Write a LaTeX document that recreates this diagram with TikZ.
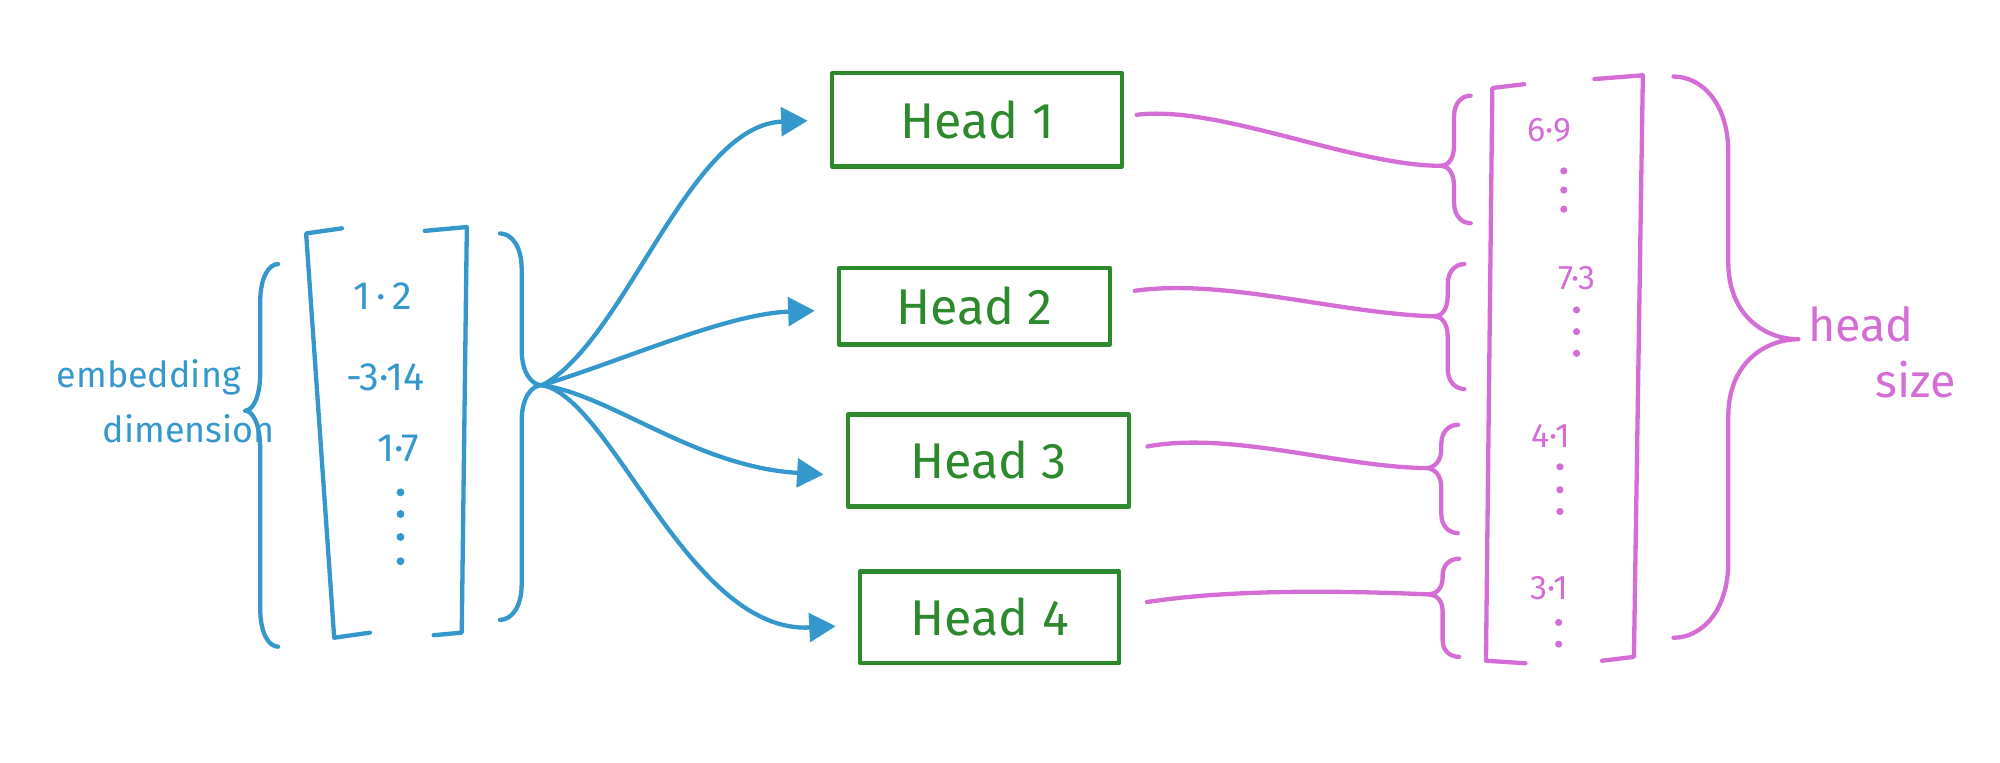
\documentclass[tikz,border=0pt]{standalone}
\usepackage{fontspec}
\setmainfont{Fira Sans}
\usetikzlibrary{arrows.meta,calc}
\definecolor{penblue}{RGB}{52,152,205}
\definecolor{pengreen}{RGB}{44,138,44}
\definecolor{penpink}{RGB}{212,110,214}
\newcommand{\pxu}{0.0125cm}
% curly brace drawn as one stroke:
% #1 style, #2 arm x, #3 top y, #4 tip x, #5 tip y, #6 bottom y, #7 end x, #8 curl size
\newcommand{\handbrace}[8]{%
  \draw[#1] (#7,#3) .. controls ({(#2+#7)/2},#3) and (#2,{#3+#8/3}) .. (#2,{#3+#8})
    -- (#2,{#5-#8}) .. controls (#2,{#5-#8/3}) and ({(#2+#4)/2},#5) .. (#4,#5)
    .. controls ({(#2+#4)/2},#5) and (#2,{#5+#8/3}) .. (#2,{#5+#8})
    -- (#2,{#6-#8}) .. controls (#2,{#6-#8/3}) and ({(#2+#7)/2},#6) .. (#7,#6);}
\begin{document}
\begin{tikzpicture}[x=\pxu, y=-\pxu, line cap=round, line join=round,
  pen/.style={line width=1.2pt},
  bluepen/.style={pen, draw=penblue},
  greenpen/.style={pen, draw=pengreen},
  pinkpen/.style={pen, draw=penpink},
  bluearrow/.style={bluepen, -{Triangle[length=2.6mm,width=2.8mm]}, shorten >=0.22cm},
  pinkline/.style={pinkpen},
  headbox/.style={greenpen, rectangle, inner sep=0pt, text=pengreen,
    font=\fontsize{14}{16}\selectfont},
  bluetext/.style={text=penblue, inner sep=0pt, font=\fontsize{10}{12}\selectfont},
  bluenum/.style={text=penblue, inner sep=0pt, font=\fontsize{11}{13}\selectfont},
  pinknum/.style={text=penpink, inner sep=0pt, font=\fontsize{9.5}{11}\selectfont},
  pinktext/.style={text=penpink, inner sep=0pt, font=\fontsize{13}{15}\selectfont},
  bluedot/.style={fill=penblue, draw=none, circle, minimum size=2.2pt, inner sep=0pt},
  pinkdot/.style={fill=penpink, draw=none, circle, minimum size=2pt, inner sep=0pt}]
\useasboundingbox (0,0) rectangle (1568,598);

% ---------- embedding vector ----------
\node[bluetext, anchor=base west] (emb) at (44,304) {embedding};
\node[bluetext, anchor=base west] (dim) at (80,347) {dimension};
\handbrace{bluepen}{204}{207}{192}{322}{507}{218}{30}

\draw[bluepen] (268,179) -- (240,183) -- (262,500) -- (290,496);
\draw[bluepen] (333,181) -- (366,178) -- (362,496) -- (340,498);
\node[bluenum] (v1) at (300,232) {1\,·\,2};
\node[bluenum] (v2) at (302,296) {-3·14};
\node[bluenum] (v3) at (312,352) {1·7};
\foreach \yy in {386,403,421,440} \node[bluedot] at (314,\yy) {};

\handbrace{bluepen}{409}{183}{425}{302}{486}{392}{28}
\coordinate (fan) at (425,302);

% ---------- heads ----------
\node[headbox, minimum width=227*\pxu, minimum height=73*\pxu] (h1) at (766,94) {Head 1};
\node[headbox, minimum width=212*\pxu, minimum height=60*\pxu] (h2) at (764,240) {Head 2};
\node[headbox, minimum width=220*\pxu, minimum height=72*\pxu] (h3) at (775,361) {Head 3};
\node[headbox, minimum width=203*\pxu, minimum height=72*\pxu] (h4) at (776,484) {Head 4};

\draw[bluearrow] (fan) .. controls (490,268) and (540,98) .. (h1.west);
\draw[bluearrow] (fan) .. controls (490,282) and (570,246) .. ($(h2.west)+(0,3)$);
\draw[bluearrow] (fan) .. controls (480,310) and (545,366) .. ($(h3.west)+(0,12)$);
\draw[bluearrow] (fan) .. controls (480,312) and (540,497) .. ($(h4.west)+(0,6)$);

% ---------- head outputs ----------
\coordinate (t1) at (1130,130);
\coordinate (t2) at (1125,248);
\coordinate (t3) at (1118,367);
\coordinate (t4) at (1120,466);
\handbrace{pinkpen}{1140}{75}{1130}{130}{175}{1153}{16}
\handbrace{pinkpen}{1135}{207}{1125}{248}{305}{1148}{16}
\handbrace{pinkpen}{1130}{333}{1118}{367}{418}{1143}{15}
\handbrace{pinkpen}{1131}{438}{1120}{466}{515}{1144}{13}

\draw[pinkline] ($(h1.east)+(10,-4)$) .. controls (955,82) and (1060,130) .. (t1);
\draw[pinkline] ($(h2.east)+(18,-12)$) .. controls (960,218) and (1050,246) .. (t2);
\draw[pinkline] ($(h3.east)+(13,-11)$) .. controls (965,338) and (1050,366) .. (t3);
\draw[pinkline] ($(h4.east)+(20,-12)$) .. controls (965,462) and (1050,463) .. (t4);

% ---------- concatenated output vector ----------
\draw[pinkpen] (1195,66) -- (1170,69) -- (1165,518) -- (1196,520);
\draw[pinkpen] (1250,62) -- (1288,59) -- (1281,515) -- (1256,518);
\node[pinknum] (o1) at (1215,102) {6·9};
\foreach \yy in {134,149,164} \node[pinkdot] at (1226,\yy) {};
\node[pinknum] (o2) at (1236,218) {7·3};
\foreach \yy in {243,260,277} \node[pinkdot] at (1236,\yy) {};
\node[pinknum] (o3) at (1216,342) {4·1};
\foreach \yy in {366,384,401} \node[pinkdot] at (1223,\yy) {};
\node[pinknum] (o4) at (1215,461) {3·1};
\foreach \yy in {488,505} \node[pinkdot] at (1222,\yy) {};

\handbrace{pinkpen}{1355}{60}{1410}{266}{500}{1312}{60}
\node[pinktext, anchor=base west] (hd) at (1417,268) {head};
\node[pinktext, anchor=base west] (sz) at (1470,312) {size};
\end{tikzpicture}
\end{document}
